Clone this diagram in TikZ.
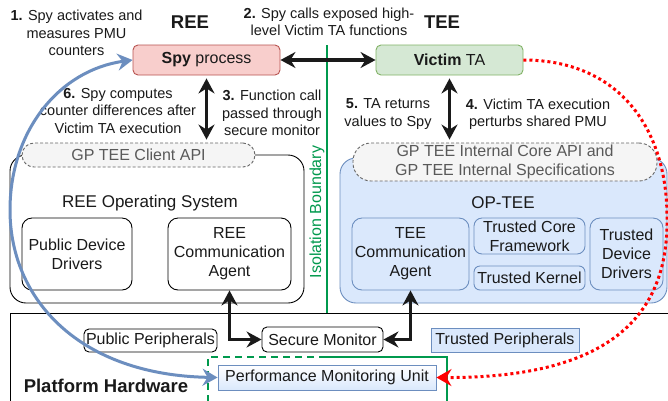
\documentclass[tikz,border=0pt]{standalone}
\usepackage{fontspec}
\setmainfont{Liberation Sans}
\usetikzlibrary{arrows.meta}
\definecolor{redF}{HTML}{F8CECC}
\definecolor{redD}{HTML}{B85450}
\definecolor{grnF}{HTML}{D5E8D4}
\definecolor{grnD}{HTML}{82B366}
\definecolor{bluF}{HTML}{DAE8FC}
\definecolor{bluD}{HTML}{6C8EBF}
\definecolor{gryF}{HTML}{F5F5F5}
\definecolor{gryD}{HTML}{666666}
\definecolor{gryT}{HTML}{595959}
\definecolor{iso}{HTML}{00994D}
\definecolor{txt}{HTML}{1A1A1A}
\definecolor{redA}{HTML}{FF0000}
\tikzset{bigtip/.tip={Stealth[length=15pt,width=17pt,inset=5pt]},
         blktip/.tip={Stealth[length=15pt,width=16pt,inset=5pt]}}
\begin{document}
\begin{tikzpicture}[x=1pt,y=-1pt,
 every node/.style={text=txt, inner sep=0pt},
 f16/.style={font=\fontsize{16}{19}\selectfont},
 ann/.style={font=\fontsize{14.5}{17.5}\selectfont, align=center},
 ttl/.style={font=\fontsize{18.5}{22}\selectfont\bfseries},
 sec/.style={font=\fontsize{17}{20}\selectfont},
 wbox/.style={draw=black, fill=white, line width=0.9pt, rounded corners=7pt, f16, align=center},
 tbox/.style={draw=bluD, fill=bluF, line width=0.9pt, rounded corners=7pt, f16, align=center},
 spec/.style={draw=gryD, fill=gryF, dash pattern=on 3pt off 2pt, line width=0.9pt, f16, align=center, text=gryT},
 blk/.style={draw=txt, line width=3.4pt, {blktip}-{blktip}},
]
\clip (0,0) rectangle (668,400);
\fill[white] (0,0) rectangle (668,400);

% platform hardware
\node[draw=black, fill=white, line width=0.9pt, minimum width=690, minimum height=110] (plat) at (355,368) {};
\node[ttl] (plath) at (106,386) {Platform Hardware};
\draw[iso, line width=1.8pt, dash pattern=on 7pt off 5pt] (208,402) -- (208,357) -- (320,357);
\draw[iso, line width=1.8pt] (320,357) -- (447,357) -- (447,402);
\node[wbox, rounded corners=5pt, minimum width=133, minimum height=23] (pubper) at (150.5,340.5) {Public Peripherals};
\node[wbox, rounded corners=5pt, minimum width=121, minimum height=25] (secmon) at (322.5,339.5) {Secure Monitor};
\node[draw=bluD, fill=bluF, line width=0.9pt, f16, minimum width=148, minimum height=24] (trper) at (505,340) {Trusted Peripherals};
\node[draw=bluD, top color=white, bottom color=bluF, line width=0.9pt, f16, minimum width=218, minimum height=25] (pmu) at (327,377.5) {Performance Monitoring Unit};

% REE OS
\node[wbox, rounded corners=16pt, minimum width=294, minimum height=148] (reeos) at (157,229) {};
\node[sec] (reeost) at (150,203) {REE Operating System};
\node[spec, rounded corners=12pt, minimum width=233, minimum height=24] (gpc) at (138.5,155) {GP TEE Client API};
\node[wbox, rounded corners=10pt, minimum width=110, minimum height=72] (pdd) at (77,254) {Public Device\\Drivers};
\node[wbox, rounded corners=10pt, minimum width=123, minimum height=72] (reeca) at (229.5,254) {REE\\Communication\\Agent};

% OP-TEE
\node[tbox, rounded corners=16pt, minimum width=327, minimum height=145] (optee) at (503.5,230.5) {};
\node[sec] (opteet) at (503,203) {OP-TEE};
\node[spec, rounded corners=18pt, minimum width=304, minimum height=38] (gpi) at (505,162) {GP TEE Internal Core API and\\GP TEE Internal Specifications};
\node[tbox, rounded corners=10pt, minimum width=117, minimum height=72] (teeca) at (410.5,254) {TEE\\Communication\\Agent};
\node[tbox, rounded corners=8pt, minimum width=111, minimum height=36] (tcf) at (529.5,236) {Trusted Core\\Framework};
\node[tbox, rounded corners=6pt, minimum width=111, minimum height=24] (tk) at (529.5,278) {Trusted Kernel};
\node[tbox, rounded corners=10pt, minimum width=73, minimum height=72] (tdd) at (626.5,254) {Trusted\\Device\\Drivers};

% top
\node[draw=redD, fill=redF, line width=0.9pt, rounded corners=5pt, f16, minimum width=147, minimum height=30] (spy) at (206.5,60) {\textbf{Spy} process};
\node[draw=grnD, fill=grnF, line width=0.9pt, rounded corners=5pt, f16, minimum width=147, minimum height=30] (vta) at (449.5,60) {\textbf{Victim} TA};
\node[ttl] (reet) at (190,22) {REE};
\node[ttl] (teet) at (442,22) {TEE};

\node[ann] (n1) at (76.5,33) {\textbf{1.} Spy activates and\\measures PMU\\counters};
\node[ann] (n2) at (329,22) {\textbf{2.} Spy calls exposed high-\\level Victim TA functions};
\node[ann] (n6) at (118,111) {\textbf{6.} Spy computes\\counter differences after\\Victim TA execution};
\node[ann] (n3) at (272,113) {\textbf{3.} Function call\\passed through\\secure monitor};
\node[ann] (n5) at (388,114) {\textbf{5.} TA returns\\values to Spy};
\node[ann] (n4) at (538,114) {\textbf{4.} Victim TA execution\\perturbs shared PMU};

% isolation boundary
\coordinate (isoT) at (327,45);
\coordinate (isoB) at (327,313);
\draw[iso, line width=1.3pt] (isoT) -- (isoB);
\node[f16, text=iso, rotate=90] (isot) at (317,212) {Isolation Boundary};

% arrows
\draw[blk] (spy.east) -- (vta.west);
\draw[blk, shorten <=3pt, shorten >=3pt] (spy.south) -- (spy.south |- gpc.north);
\draw[blk, shorten <=3pt, shorten >=3pt] (vta.south) -- (vta.south |- gpi.north);
\draw[blk] (reeca.south) |- (secmon.west);
\draw[blk] (teeca.south) |- (secmon.east);

\draw[bluD, line width=3pt, {bigtip}-{bigtip}]
  (spy.west) .. controls (60,70) and (10,130) .. (10,210) .. controls (10,300) and (80,375) .. (pmu.west);
\draw[redA, line width=3pt, dash pattern=on 3pt off 3pt, -{bigtip}]
  (vta.east) .. controls (620,60) and (668,130) .. (667,220) .. controls (668,330) and (590,378) .. (pmu.east);
\end{tikzpicture}
\end{document}
